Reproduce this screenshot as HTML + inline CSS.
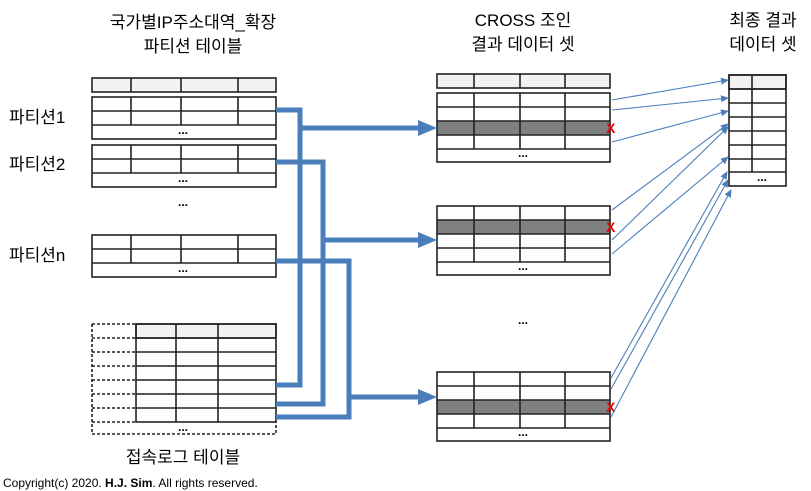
<!DOCTYPE html>
<html><head><meta charset="utf-8"><style>
html,body{margin:0;padding:0;background:#fff;width:811px;height:491px;overflow:hidden}
text{font-family:"Liberation Sans","Noto Sans CJK KR",sans-serif;fill:#000}
</style></head><body>
<svg width="811" height="491" viewBox="0 0 811 491" xmlns="http://www.w3.org/2000/svg">
<defs>
<marker id="ab" markerWidth="8" markerHeight="8" refX="7" refY="4" orient="auto" markerUnits="userSpaceOnUse"><path d="M0,0.5 L8,4 L0,7.5z" fill="#4a7ebb"/></marker>
</defs>
<!-- titles -->
<g font-size="17" text-anchor="middle">
<text x="193" y="28">국가별IP주소대역_확장</text>
<text x="193" y="52">파티션 테이블</text>
<text x="523" y="26">CROSS 조인</text>
<text x="523" y="50">결과 데이터 셋</text>
<text x="763" y="26">최종 결과</text>
<text x="763" y="50">데이터 셋</text>
<text x="183" y="463">접속로그 테이블</text>
</g>
<g font-size="17">
<text x="9" y="123">파티션1</text>
<text x="9" y="170">파티션2</text>
<text x="9" y="261">파티션n</text>
</g>
<text x="3" y="487" font-size="12">Copyright(c) 2020. <tspan font-weight="bold">H.J. Sim</tspan>. All rights reserved.</text>

<g stroke="#222" stroke-width="1.6" fill="none">
<!-- left header -->
<rect x="92" y="78" width="184" height="14" fill="#f2f2f2"/>
<path d="M131 78V92M181 78V92M238 78V92"/>
<!-- partition 1 -->
<rect x="92" y="97" width="184" height="42" fill="#fff"/>
<path d="M92 111H276M92 125H276M131 97V125M181 97V125M238 97V125"/>
<!-- partition 2 -->
<rect x="92" y="145" width="184" height="42" fill="#fff"/>
<path d="M92 159H276M92 173H276M131 145V173M181 145V173M238 145V173"/>
<!-- partition n -->
<rect x="92" y="235" width="184" height="42" fill="#fff"/>
<path d="M92 249H276M92 263H276M131 235V263M181 235V263M238 235V263"/>
<!-- log table -->
<rect x="136" y="324" width="140" height="14" fill="#f2f2f2"/>
<rect x="136" y="324" width="140" height="98"/>
<path d="M136 338H276M136 352H276M136 366H276M136 380H276M136 394H276M136 408H276M176 324V422M218 324V422"/>
<g stroke-dasharray="3,2">
<path d="M92 324H136M92 338H136M92 352H136M92 366H136M92 380H136M92 394H136M92 408H136M92 422H136M92 324V434H276V422"/>
</g>
<!-- cross table 1 -->
<rect x="437" y="74" width="173" height="14" fill="#f2f2f2"/>
<path d="M474 74V88M520 74V88M565 74V88"/>
<rect x="437" y="121" width="173" height="14" fill="#808080" stroke="none"/>
<rect x="437" y="93" width="173" height="69"/>
<path d="M437 107H610M437 121H610M437 135H610M437 149H610M474 93V149M520 93V149M565 93V149"/>
<!-- cross table 2 -->
<rect x="437" y="220" width="173" height="14" fill="#808080" stroke="none"/>
<rect x="437" y="206" width="173" height="69"/>
<path d="M437 220H610M437 234H610M437 248H610M437 262H610M474 206V262M520 206V262M565 206V262"/>
<!-- cross table 3 -->
<rect x="437" y="400" width="173" height="14" fill="#808080" stroke="none"/>
<rect x="437" y="372" width="173" height="69"/>
<path d="M437 386H610M437 400H610M437 414H610M437 428H610M474 372V428M520 372V428M565 372V428"/>
<!-- final table -->
<rect x="729" y="75" width="57" height="14" fill="#f2f2f2"/>
<rect x="729" y="75" width="57" height="111"/>
<path d="M729 89H786M729 103H786M729 117H786M729 131H786M729 145H786M729 159H786M729 172H786M752 75V172"/>
</g>
<!-- dots -->
<g font-size="12" text-anchor="middle" font-weight="bold">
<text x="183" y="134">...</text>
<text x="183" y="182">...</text>
<text x="183" y="272">...</text>
<text x="183" y="206">...</text>
<text x="183" y="431">...</text>
<text x="523" y="157">...</text>
<text x="523" y="270">...</text>
<text x="523" y="436">...</text>
<text x="523" y="324">...</text>
<text x="762" y="181">...</text>
</g>
<!-- red X -->
<g font-size="14" fill="#e00" font-weight="bold">
<text x="606" y="133" style="fill:#e00">X</text>
<text x="606" y="232" style="fill:#e00">X</text>
<text x="606" y="412" style="fill:#e00">X</text>
</g>
<!-- thick blue connectors -->
<g stroke="#4a7ebb" stroke-width="5" fill="none">
<path d="M276 110H300V385H276"/>
<path d="M276 162H323V404H276"/>
<path d="M276 261H349V417H276"/>
<path d="M300 128H420"/>
<path d="M323 240H420"/>
<path d="M349 397H420"/>
</g>
<g fill="#4a7ebb">
<path d="M418 120L437 128L418 136z"/>
<path d="M418 232L437 240L418 248z"/>
<path d="M418 389L437 397L418 405z"/>
</g>
<!-- thin arrows -->
<g stroke="#4a7ebb" stroke-width="1.1" fill="none" marker-end="url(#ab)">
<path d="M612 100L728 80"/>
<path d="M612 110L728 98"/>
<path d="M612 142L728 111"/>
<path d="M612 210L728 124"/>
<path d="M612 240L728 127"/>
<path d="M612 254L728 157"/>
<path d="M611 378L727 172"/>
<path d="M611 389L728 180"/>
<path d="M611 417L731 190"/>
</g>
</svg>
</body></html>
